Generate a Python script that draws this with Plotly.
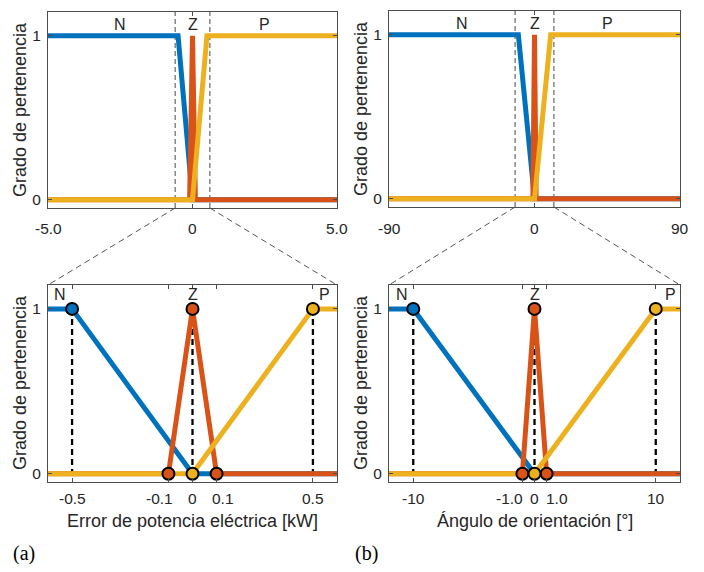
import plotly.graph_objects as go

# page body has an 8px default margin; figure is laid out in window pixels minus that offset
OFF = 8
W, H = 696, 556

# ---------------- data ----------------
# (a) electric power error [kW]
N_a_x = [-5.0, -0.5, 0.0, 5.0]
N_a_y = [1, 1, 0, 0]
Z_a_x = [-5.0, -0.1, 0.0, 0.1, 5.0]
Z_a_y = [0, 0, 1, 0, 0]
P_a_x = [-5.0, 0.0, 0.5, 5.0]
P_a_y = [0, 0, 1, 1]
N_a_pts_x, N_a_pts_y = [-0.5], [1]
Z_a_pts_x, Z_a_pts_y = [-0.1, 0.0, 0.1], [0, 1, 0]
P_a_pts_x, P_a_pts_y = [0.0, 0.5], [0, 1]
zoom_a = 0.6
top_ticks_a = [-5.0, 0.0, 5.0]
top_ticktext_a = ["-5.0", "0", "5.0"]
bot_ticks_a = [-0.5, -0.1, 0.0, 0.1, 0.5]
bot_ticktext_a = ["-0.5", "-0.1", "0", "0.1", "0.5"]
guide_a = [-0.5, 0.0, 0.5]

# (b) orientation angle [deg]
N_b_x = [-90, -10, 0, 90]
N_b_y = [1, 1, 0, 0]
Z_b_x = [-90, -1, 0, 1, 90]
Z_b_y = [0, 0, 1, 0, 0]
P_b_x = [-90, 0, 10, 90]
P_b_y = [0, 0, 1, 1]
N_b_pts_x, N_b_pts_y = [-10], [1]
Z_b_pts_x, Z_b_pts_y = [-1, 0, 1], [0, 1, 0]
P_b_pts_x, P_b_pts_y = [0, 10], [0, 1]
zoom_b = 12
top_ticks_b = [-90, 0, 90]
top_ticktext_b = ["-90", "0", "90"]
bot_ticks_b = [-10, -1, 0, 1, 10]
bot_ticktext_b = ["-10", "-1.0", "0", "1.0", "10"]
guide_b = [-10, 0, 10]

set_names = ["N", "Z", "P"]

# ---------------- style ----------------
BLUE, ORANGE, YELLOW = "#0072BD", "#D95319", "#EDB120"
AX = "#4d4d4d"
FONT = "Liberation Sans, Arial, sans-serif"
TICKF = 15.5
SETF = 16
LABF = 18
LW = 5
YR = [-0.05, 1.145]

def px_x(X):  # window pixel -> paper fraction
    return (X - OFF) / W

def px_y(Y):
    return 1 - (Y - OFF) / H

def dom_x(x0, x1):
    return [px_x(x0), px_x(x1)]

def dom_y(ytop, ybot):
    return [px_y(ybot), px_y(ytop)]

panels = {
    "TL": dict(xa="x", ya="y", xd=dom_x(48, 337), yd=dom_y(12, 208), xr=[-5, 5]),
    "TR": dict(xa="x2", ya="y2", xd=dom_x(389, 680), yd=dom_y(11, 207), xr=[-90, 90]),
    "BL": dict(xa="x3", ya="y3", xd=dom_x(48, 337), yd=dom_y(285, 482), xr=[-zoom_a, zoom_a]),
    "BR": dict(xa="x4", ya="y4", xd=dom_x(389, 680), yd=dom_y(285, 482), xr=[-zoom_b, zoom_b]),
}

def xp(p, x):
    d, r = panels[p]["xd"], panels[p]["xr"]
    return d[0] + (x - r[0]) / (r[1] - r[0]) * (d[1] - d[0])

def yp(p, y):
    d = panels[p]["yd"]
    return d[0] + (y - YR[0]) / (YR[1] - YR[0]) * (d[1] - d[0])

fig = go.Figure()

def add_lines(p, nx, ny, zx, zy, qx, qy):
    xa, ya = panels[p]["xa"], panels[p]["ya"]
    for xs, ys, c in [(nx, ny, BLUE), (zx, zy, ORANGE), (qx, qy, YELLOW)]:
        fig.add_trace(go.Scatter(x=xs, y=ys, mode="lines", line=dict(color=c, width=LW),
                                 xaxis=xa, yaxis=ya, showlegend=False, hoverinfo="skip"))

def add_guides(p, gx):
    xa, ya = panels[p]["xa"], panels[p]["ya"]
    for g in gx:
        fig.add_trace(go.Scatter(x=[g, g], y=[1, 0], mode="lines",
                                 line=dict(color="black", width=2.3, dash="6px,4px"),
                                 xaxis=xa, yaxis=ya, showlegend=False, hoverinfo="skip"))

def add_markers(p, pts):
    xa, ya = panels[p]["xa"], panels[p]["ya"]
    for xs, ys, c in pts:
        fig.add_trace(go.Scatter(x=xs, y=ys, mode="markers",
                                 marker=dict(color=c, size=12, line=dict(color="black", width=2)),
                                 xaxis=xa, yaxis=ya, showlegend=False, hoverinfo="skip", cliponaxis=False))

add_lines("TL", N_a_x, N_a_y, Z_a_x, Z_a_y, P_a_x, P_a_y)
add_lines("TR", N_b_x, N_b_y, Z_b_x, Z_b_y, P_b_x, P_b_y)
add_guides("BL", guide_a)
add_guides("BR", guide_b)
add_lines("BL", N_a_x, N_a_y, Z_a_x, Z_a_y, P_a_x, P_a_y)
add_lines("BR", N_b_x, N_b_y, Z_b_x, Z_b_y, P_b_x, P_b_y)
add_markers("BL", [(N_a_pts_x, N_a_pts_y, BLUE), (Z_a_pts_x, Z_a_pts_y, ORANGE), (P_a_pts_x, P_a_pts_y, YELLOW)])
add_markers("BR", [(N_b_pts_x, N_b_pts_y, BLUE), (Z_b_pts_x, Z_b_pts_y, ORANGE), (P_b_pts_x, P_b_pts_y, YELLOW)])

axcommon = dict(showline=True, linecolor=AX, linewidth=1, mirror="ticks", ticks="inside",
                ticklen=4, tickcolor=AX, showgrid=False, zeroline=False, fixedrange=True,
                tickfont=dict(family=FONT, size=TICKF, color="#262626"))

layout = dict(width=W, height=H, margin=dict(l=0, r=0, t=0, b=0), autosize=False,
              paper_bgcolor="white", plot_bgcolor="white", showlegend=False)

tickmap = {"TL": top_ticks_a, "TR": top_ticks_b, "BL": bot_ticks_a, "BR": bot_ticks_b}
for i, p in enumerate(["TL", "TR", "BL", "BR"]):
    sfx = "" if i == 0 else str(i + 1)
    layout["xaxis" + sfx] = dict(axcommon, domain=panels[p]["xd"], range=panels[p]["xr"],
                                 anchor="y" + sfx, tickvals=tickmap[p], showticklabels=False)
    layout["yaxis" + sfx] = dict(axcommon, domain=panels[p]["yd"], range=YR,
                                 anchor="x" + sfx, tickvals=[0, 1], ticktext=["0", "1"],
                                 ticklabelstandoff=3)
fig.update_layout(**layout)

ann = []
shapes = []

def txt(x, y, s, size=TICKF, angle=0, xshift=0, family=FONT, color="#262626"):
    ann.append(dict(x=x, y=y, xref="paper", yref="paper", text=s, showarrow=False, textangle=angle,
                    xanchor="center", yanchor="middle", xshift=xshift,
                    font=dict(family=family, size=size, color=color)))

# x tick labels
for p, ticks, texts, yc, shifts in [
    ("TL", top_ticks_a, top_ticktext_a, 228, [0, 0, 0]),
    ("TR", top_ticks_b, top_ticktext_b, 228, [0, 0, 0]),
    ("BL", bot_ticks_a, bot_ticktext_a, 498, [0, -9, 0, 6, 0]),
    ("BR", bot_ticks_b, bot_ticktext_b, 498, [0, -13, 0, 10, 0]),
]:
    for t, s, sh in zip(ticks, texts, shifts):
        txt(xp(p, t), px_y(yc), s, xshift=sh)

# axis titles
for X, Y in [(20, 110), (361, 109), (20, 383), (361, 383)]:
    txt(px_x(X), px_y(Y), "Grado de pertenencia", size=LABF, angle=-90)
txt(xp("BL", 0), px_y(521), "Error de potencia eléctrica [kW]", size=LABF)
txt(xp("BR", 0), px_y(521), "Ángulo de orientación [°]", size=LABF)

# set labels
for p, xs, yv in [("TL", [-2.5, 0, 2.5], 1.07), ("TR", [-45, 0, 45], 1.07),
                  ("BL", [-0.55, 0, 0.55], 1.087), ("BR", [-10.9, 0, 11.2], 1.087)]:
    for xv, s in zip(xs, set_names):
        txt(xp(p, xv), yp(p, yv), s, size=SETF)

# panel tags
SERIF = "Liberation Serif, Times New Roman, serif"
txt(px_x(24), px_y(553), "(a)", size=20, family=SERIF, color="black")
txt(px_x(366), px_y(553), "(b)", size=20, family=SERIF, color="black")

# top dashed zoom lines and connectors
for top, bot, z in [("TL", "BL", zoom_a), ("TR", "BR", zoom_b)]:
    for s in (-1, 1):
        xt = xp(top, s * z)
        shapes.append(dict(type="line", xref="paper", yref="paper", x0=xt, x1=xt,
                           y0=panels[top]["yd"][0], y1=panels[top]["yd"][1],
                           line=dict(color="#666666", width=1.2, dash="5px,3px"), layer="below"))
        xb = xp(bot, s * z)
        shapes.append(dict(type="line", xref="paper", yref="paper", x0=xt, x1=xb,
                           y0=panels[top]["yd"][0], y1=panels[bot]["yd"][1],
                           line=dict(color="#555555", width=1, dash="6px,4px")))

fig.update_layout(annotations=ann, shapes=shapes)
fig.write_html("out.html")
